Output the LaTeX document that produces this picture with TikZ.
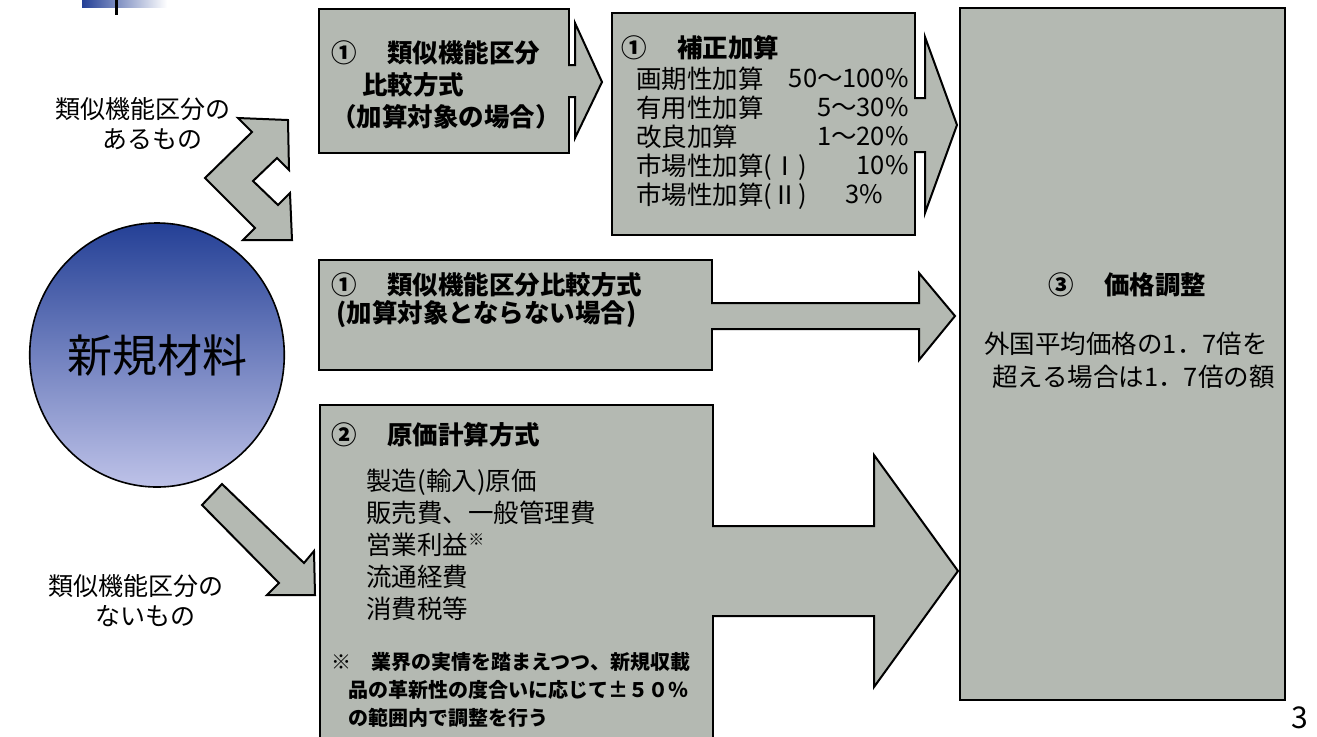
\documentclass[tikz,border=0pt]{standalone}
\usepackage{fontspec}
\setmainfont{Noto Sans CJK JP}
\usetikzlibrary{positioning,calc,fit,shapes.geometric}
\definecolor{boxgray}{RGB}{180,185,178}
\definecolor{deepblue}{RGB}{36,64,150}
\definecolor{paleblue}{RGB}{190,194,232}

\begin{document}
\begin{tikzpicture}[
x=0.5pt, y=-0.5pt,
box/.style={
  draw,
  fill=boxgray,
  line width=1pt,
  inner sep=0pt
},
arr/.style={
  draw,
  fill=boxgray,
  line width=1pt,
  line join=miter
},
head/.style={
  inner sep=0pt,
  anchor=north west,
  align=left,
  font={\fontsize{12.75}{16}\selectfont\bfseries}
},
body/.style={
  inner sep=0pt,
  anchor=north west,
  align=left,
  font={\fontsize{12.75}{16}\selectfont}
},
lbl/.style={
  inner sep=0pt,
  anchor=north west,
  align=left,
  font={\fontsize{12.5}{15}\selectfont}
}
]
\useasboundingbox (0,0) rectangle (1317,736);
\clip (0,0) rectangle (1317,736);

% title bar fragment
\shade[left color=deepblue, right color=white] (82,0) rectangle (167,7);
\draw[line width=1.5pt] (116,0) -- (116,15);

% new material
\node[ellipse, draw, line width=0.8pt, inner sep=0pt,
  minimum width=126pt, minimum height=132pt,
  top color=deepblue, bottom color=paleblue,
  font=\fontsize{22.5}{24}\selectfont] at (157,355)
  (mat) {新規材料};

\node[lbl] at (55,97.5) (with) {類似機能区分の\\\hspace*{1.9em}あるもの};
\node[lbl] at (48,574.5) (without) {類似機能区分の\\\hspace*{1.9em}ないもの};

% boxes
\node[box, fit={(319,9) (569,153)}] (cmp1) {};
\node[box, fit={(612,13) (915,235)}] (corr) {};
\node[box, fit={(319,260) (712,370)}] (cmp2) {};
\node[box, fit={(320,405) (713,760)}] (cost) {};
\node[box, fit={(960,8) (1285,700)}] (adj) {};

% block arrows
\draw[arr] ($(cmp1.east|-0,65)+(-2,0)$) -- (575,65) -- (575,23)
  -- ($(corr.west|-0,82)+(-9,0)$) -- (575,138) -- (575,97)
  -- ($(cmp1.east|-0,97)+(-2,0)$);
\draw[arr] ($(corr.east|-0,98)+(-2,0)$) -- (925,98) -- (925,37)
  -- ($(adj.west|-0,125)+(-2,0)$) -- (925,213) -- (925,152)
  -- ($(corr.east|-0,152)+(-2,0)$);
\draw[arr] ($(cmp2.east|-0,303)+(-2,0)$) -- (919,303) -- (919,273)
  -- ($(adj.west|-0,316)+(-4,0)$) -- (919,360) -- (919,329)
  -- ($(cmp2.east|-0,329)+(-2,0)$);
\draw[arr] ($(cost.east|-0,526)+(-2,0)$) -- (874,526) -- (874,455)
  -- ($(adj.west|-0,571)+(-1,0)$) -- (874,687) -- (874,616)
  -- ($(cost.east|-0,616)+(-2,0)$);

\draw[arr] (238,118) -- (288,120) -- (289,170) -- (277,158) -- (253,181)
  -- (278,205) -- (290,193) -- (292,240) -- (243,240) -- (255,228)
  -- (205,178) -- (252,132) -- cycle;
\draw[arr] (222,484) -- (304,563) -- (314,551) -- (315,595) -- (267,595)
  -- (279,583) -- (202,505) -- cycle;

% texts
\node[head] at (331,40) (cmp1t)
  {①\hspace{1.2em}類似機能区分\\\hspace*{1.2em}比較方式\\（加算対象の場合）};

\node[head] at (621,35) (corrt) {①\hspace{1.2em}補正加算};
\node[body, font={\fontsize{12.75}{14.5}\selectfont}] at (636,67) (corrl)
  {画期性加算\\有用性加算\\改良加算\\市場性加算(Ⅰ)\\市場性加算(Ⅱ)};
\node[body, anchor=north east, align=right,
  font={\fontsize{12.75}{14.5}\selectfont}] at (909,67) (corrv)
  {\vphantom{画}50～100\%\\5～30\%\\1～20\%\\10\%\hspace*{1em}\\3\%\hspace*{1em}};

\node[head, font={\fontsize{12.75}{14}\selectfont\bfseries}] at (331,272) (cmp2t)
  {①\hspace{1.2em}類似機能区分比較方式\\\hspace*{.2em}(加算対象とならない場合)};

\node[head] at (331,422) (costt) {②\hspace{1.2em}原価計算方式};
\node[body] at (366,469) (costl)
  {製造(輸入)原価\\販売費、一般管理費\\営業利益\raisebox{.35em}{\fontsize{8}{8}\selectfont ※}\\流通経費\\消費税等};
\node[head, font={\fontsize{10}{14}\selectfont\bfseries}] at (331,652) (note)
  {※\hspace{1em}業界の実情を踏まえつつ、新規収載\\\hspace*{.85em}品の革新性の度合いに応じて±５０％\\\hspace*{.85em}の範囲内で調整を行う};

\node[head, anchor=west] at (1048,285) (adjt) {③\hspace{1.2em}価格調整};
\node[body, font={\fontsize{12.75}{16.5}\selectfont}] at (984,332) (adjl)
  {外国平均価格の1．7倍を\\\hspace*{.3em}超える場合は1．7倍の額};

\node[font=\fontsize{15}{15}\selectfont, inner sep=0pt] at (1300,718) (page) {3};
\end{tikzpicture}
\end{document}
